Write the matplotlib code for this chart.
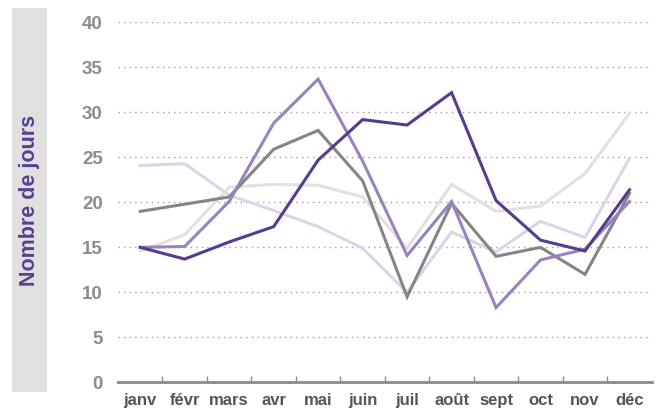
#!/usr/bin/env python3

import matplotlib
matplotlib.use("Agg")
import matplotlib.pyplot as plt
from matplotlib.patches import Rectangle

plt.rcParams['font.family'] = ['Liberation Sans', 'DejaVu Sans']

months = ['janv', 'févr', 'mars', 'avr', 'mai', 'juin', 'juil', 'août', 'sept', 'oct', 'nov', 'déc']

# series (days per month)
lavender_light = [24.1, 24.3, 20.8, 19.1, 17.3, 14.9, 10.0, 16.7, 14.5, 17.9, 16.1, 24.9]
gray_light = [14.6, 16.4, 21.7, 22.0, 21.9, 20.6, 14.9, 22.0, 19.0, 19.6, 23.2, 29.9]
gray_mid = [19.0, 19.8, 20.6, 25.9, 28.0, 22.4, 9.5, 19.9, 14.0, 15.0, 12.0, 21.0]
purple_mid = [15.0, 15.1, 20.1, 28.8, 33.7, 24.6, 14.1, 20.1, 8.3, 13.6, 14.8, 20.1]
purple_dark = [15.0, 13.7, 15.6, 17.3, 24.7, 29.2, 28.6, 32.2, 20.2, 15.8, 14.6, 21.4]

yticks = [0, 5, 10, 15, 20, 25, 30, 35, 40]

series = [
    (lavender_light, '#dcd4ea'),
    (gray_light, '#e1e1e1'),
    (gray_mid, '#858585'),
    (purple_mid, '#9883bf'),
    (purple_dark, '#563b8e'),
]

fig = plt.figure(figsize=(6.59, 4.16), dpi=100)
ax = fig.add_axes([0.179, 0.081, 0.810, 0.865])

x = list(range(len(months)))
for vals, col in series:
    ax.plot(x, vals, color=col, lw=2.2, solid_joinstyle='miter')

ax.set_xlim(-0.5, len(months) - 0.5)
ax.set_ylim(0, 40)

# dotted gridlines
for v in yticks[1:]:
    ax.axhline(v, color='#a0a0a0', lw=1, ls=(0, (1, 3)), zorder=0)

for s in ['top', 'right', 'left']:
    ax.spines[s].set_visible(False)
ax.spines['bottom'].set_color('#8a8a8a')
ax.spines['bottom'].set_linewidth(2)

ax.set_yticks(yticks)
ax.set_yticklabels([str(v) for v in yticks], fontsize=13.5, fontweight='bold', color='#8c8c8c')
ax.tick_params(axis='y', length=0, pad=11)

ax.set_xticks(x)
ax.set_xticklabels(months, fontsize=12, fontweight='bold', color='#555555')
ax.tick_params(axis='x', which='major', length=0, pad=8)
ax.set_xticks([i + 0.5 for i in x[:-1]], minor=True)
ax.tick_params(axis='x', which='minor', direction='in', length=4, width=1, color='#8a8a8a')

# y label in a grey band
fig.patches.append(Rectangle((0.0182, 0.0577), 0.0531, 0.923, transform=fig.transFigure,
                             facecolor='#e0e0e0', edgecolor='none', zorder=0))
fig.text(0.0448, 0.519, 'Nombre de jours', rotation=90, ha='center', va='center',
         fontsize=15.5, fontweight='bold', color='#5b3f92')

fig.savefig('out.png', dpi=100)
